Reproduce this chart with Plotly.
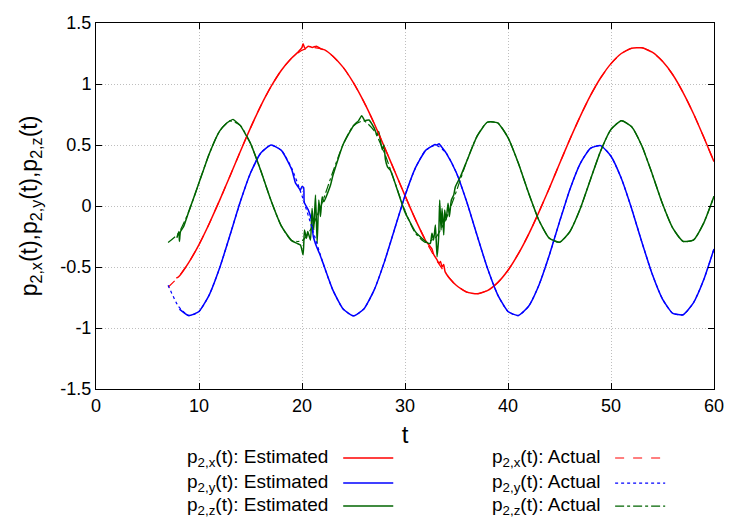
import plotly.graph_objects as go

# ── Colours ──────────────────────────────────────────────────
COLORS = {
    "x": "#ff0000",
    "y": "#0000ff",
    "z": "#006400",
    "grid": "#bebebe",
    "axis": "#000000",
}
FONT = "Liberation Sans, Arial, sans-serif"

# ── Axis ticks ───────────────────────────────────────────────
x_ticks = [0, 10, 20, 30, 40, 50, 60]
y_ticks = [-1.5, -1, -0.5, 0, 0.5, 1, 1.5]
y_tick_labels = ["-1.5", "-1", "-0.5", "0", "0.5", "1", "1.5"]

# ── Actual trajectories (t = 7 .. 60) ───────────────────────
t_actual = list(range(7, 61))
x_actual = [-0.666, -0.582, -0.464, -0.316, -0.143, 0.046, 0.244, 0.445, 0.640, 0.821,
            0.980, 1.113, 1.213, 1.276, 1.300, 1.284, 1.228, 1.136, 1.009, 0.855,
            0.678, 0.484, 0.285, 0.085, -0.108, -0.283, -0.436, -0.561, -0.652, -0.706,
            -0.720, -0.693, -0.628, -0.527, -0.392, -0.232, -0.050, 0.144, 0.346, 0.545,
            0.733, 0.905, 1.051, 1.167, 1.250, 1.293, 1.297, 1.261, 1.186, 1.076,
            0.930, 0.758, 0.565, 0.364]
y_actual = [-0.649, -0.822, -0.898, -0.865, -0.728, -0.509, -0.242, 0.032, 0.270, 0.434,
            0.499, 0.456, 0.310, 0.084, -0.186, -0.458, -0.690, -0.845, -0.900, -0.845,
            -0.690, -0.458, -0.186, 0.084, 0.310, 0.456, 0.499, 0.434, 0.270, 0.032,
            -0.242, -0.509, -0.728, -0.865, -0.898, -0.822, -0.649, -0.406, -0.130, 0.134,
            0.346, 0.473, 0.495, 0.408, 0.227, -0.021, -0.297, -0.558, -0.763, -0.880,
            -0.891, -0.794, -0.605, -0.352]
z_actual = [-0.299, -0.225, -0.048, 0.190, 0.429, 0.614, 0.698, 0.661, 0.513, 0.289,
            0.043, -0.165, -0.284, -0.286, -0.170, 0.036, 0.281, 0.506, 0.658, 0.698,
            0.618, 0.436, 0.197, -0.041, -0.221, -0.299, -0.256, -0.102, 0.124, 0.369,
            0.573, 0.687, 0.682, 0.561, 0.352, 0.106, -0.117, -0.263, -0.297, -0.211,
            -0.025, 0.216, 0.452, 0.628, 0.699, 0.650, 0.492, 0.263, 0.018, -0.182,
            -0.290, -0.279, -0.140, 0.080]

# ── Estimated trajectories (noisy where the estimator re-converges) ──
t_est_x = [7.8, 8, 9, 10, 11, 12, 13, 14, 15, 16, 17, 18, 19, 19.6, 20.0, 20.1, 20.3,
           20.6, 21.0, 21.4, 21.8, 22.2, 23, 24, 25, 26, 27, 28, 29, 30, 31, 32, 32.6,
           32.8, 33.1, 33.3, 33.45, 33.6, 33.75, 33.9, 34.3, 35, 36, 37, 38, 39, 40, 41,
           42, 43, 44, 45, 46, 47, 48, 49, 50, 51, 52, 53, 54, 55, 56, 57, 58, 59, 60]
x_est = [-0.59, -0.582, -0.464, -0.316, -0.143, 0.046, 0.244, 0.445, 0.640, 0.821,
         0.980, 1.113, 1.213, 1.26, 1.30, 1.33, 1.29, 1.31, 1.30, 1.31, 1.29, 1.28,
         1.228, 1.136, 1.009, 0.855, 0.678, 0.484, 0.285, 0.085, -0.108, -0.283, -0.35,
         -0.40, -0.44, -0.47, -0.455, -0.50, -0.48, -0.54, -0.59, -0.652, -0.706, -0.720,
         -0.693, -0.628, -0.527, -0.392, -0.232, -0.050, 0.144, 0.346, 0.545, 0.733,
         0.905, 1.051, 1.167, 1.250, 1.293, 1.297, 1.261, 1.186, 1.076, 0.930, 0.758,
         0.565, 0.364]

t_est_y = [8.1, 9, 10, 11, 12, 13, 14, 15, 16, 17, 18, 19, 19.36, 19.6, 19.84, 20.0,
           20.16, 20.22, 20.6, 20.9, 21.1, 21.4, 21.7, 22, 23, 24, 25, 26, 27, 28, 29,
           30, 31, 32, 32.6, 32.9, 33.1, 33.3, 33.5, 34, 35, 36, 37, 38, 39, 40, 41, 42,
           43, 44, 45, 46, 47, 48, 49, 50, 51, 52, 53, 54, 55, 56, 57, 58, 59, 60]
y_est = [-0.845, -0.898, -0.865, -0.728, -0.509, -0.242, 0.032, 0.270, 0.434, 0.499,
         0.456, 0.30, 0.19, 0.16, 0.13, 0.16, 0.15, 0.03, -0.03, -0.11, -0.25, -0.33,
         -0.39, -0.458, -0.690, -0.845, -0.900, -0.845, -0.690, -0.458, -0.186, 0.084,
         0.310, 0.456, 0.49, 0.505, 0.50, 0.51, 0.49, 0.434, 0.270, 0.032, -0.242,
         -0.509, -0.728, -0.865, -0.898, -0.822, -0.649, -0.406, -0.130, 0.134, 0.346,
         0.473, 0.495, 0.408, 0.227, -0.021, -0.297, -0.558, -0.763, -0.880, -0.891,
         -0.794, -0.605, -0.352]

t_est_z = [7.85, 8.05, 8.1, 8.2, 8.5, 9, 10, 11, 12, 12.7, 13, 13.3, 13.6, 14, 15, 16,
           17, 18, 19, 19.52, 19.85, 20.11, 20.24, 20.43, 20.56, 20.82, 20.98, 21.14,
           21.31, 21.47, 21.63, 21.79, 21.96, 22.12, 22.77, 23, 24, 25, 25.5, 25.8, 26.1,
           26.5, 27, 27.3, 27.45, 27.6, 27.8, 27.95, 28.1, 28.3, 28.6, 29, 30, 31, 31.33,
           32.14, 32.46, 32.62, 32.78, 32.95, 33.11, 33.27, 33.37, 33.5, 33.6, 33.76,
           33.85, 33.99, 34.18, 34.31, 34.5, 34.73, 34.89, 35.38, 36, 37, 38, 39, 40, 41,
           42, 43, 44, 45, 46, 47, 48, 49, 50, 51, 52, 53, 54, 55, 56, 57, 58, 59, 60]
z_est = [-0.26, -0.21, -0.29, -0.21, -0.17, -0.048, 0.190, 0.429, 0.614, 0.68, 0.698,
         0.71, 0.69, 0.661, 0.513, 0.289, 0.043, -0.165, -0.284, -0.306, -0.32, -0.40,
         -0.197, -0.265, -0.21, -0.279, -0.019, -0.197, 0.09, -0.306, 0.049, -0.087,
         0.076, 0.035, 0.172, 0.25, 0.506, 0.658, 0.70, 0.74, 0.70, 0.705, 0.64, 0.58,
         0.61, 0.54, 0.46, 0.50, 0.38, 0.32, 0.29, 0.197, -0.05, -0.21, -0.24, -0.30,
         -0.306, -0.224, -0.279, -0.156, -0.415, -0.251, 0.049, -0.197, -0.019, -0.238,
         -0.033, -0.115, 0.022, -0.087, 0.049, 0.09, 0.158, 0.24, 0.369, 0.573, 0.687,
         0.682, 0.561, 0.352, 0.106, -0.117, -0.263, -0.297, -0.211, -0.025, 0.216,
         0.452, 0.628, 0.699, 0.650, 0.492, 0.263, 0.018, -0.182, -0.290, -0.279,
         -0.140, 0.080]

SUB = {"x": "2,x", "y": "2,y", "z": "2,z"}
DASH = {"x": "dash", "y": "dot", "z": "dashdot"}

fig = go.Figure()

estimated = {"x": (t_est_x, x_est), "y": (t_est_y, y_est), "z": (t_est_z, z_est)}
actual = {"x": x_actual, "y": y_actual, "z": z_actual}

for comp, (tt, vv) in estimated.items():
    fig.add_trace(go.Scatter(
        x=tt, y=vv, mode="lines", showlegend=False,
        line=dict(color=COLORS[comp], width=1.5, shape="spline", smoothing=0.5),
    ))

for comp, vv in actual.items():
    fig.add_trace(go.Scatter(
        x=t_actual, y=vv, mode="lines", showlegend=False,
        line=dict(color=COLORS[comp], width=1.2, dash=DASH[comp],
                  shape="spline", smoothing=0.6),
    ))

# ── Hand-built legend (gnuplot style: text left, sample right) ──
rows = [-0.1885, -0.257, -0.320]
for i, comp in enumerate(["x", "y", "z"]):
    fig.add_annotation(
        xref="paper", yref="paper", x=0.379, y=rows[i],
        xanchor="right", yanchor="middle", showarrow=False,
        text=f"p<sub>{SUB[comp]}</sub>(t): Estimated",
        font=dict(size=19, color="black", family=FONT),
    )
    fig.add_shape(type="line", xref="paper", yref="paper",
                  x0=0.400, x1=0.481, y0=rows[i], y1=rows[i],
                  line=dict(color=COLORS[comp], width=1.5))
    fig.add_annotation(
        xref="paper", yref="paper", x=0.820, y=rows[i],
        xanchor="right", yanchor="middle", showarrow=False,
        text=f"p<sub>{SUB[comp]}</sub>(t): Actual",
        font=dict(size=19, color="black", family=FONT),
    )
    fig.add_shape(type="line", xref="paper", yref="paper",
                  x0=0.840, x1=0.921, y0=rows[i], y1=rows[i],
                  line=dict(color=COLORS[comp], width=1.2, dash=DASH[comp]))

axis_common = dict(
    showline=True, linecolor=COLORS["axis"], linewidth=1, mirror="ticks",
    ticks="inside", ticklen=6, tickcolor=COLORS["axis"],
    showgrid=True, gridcolor=COLORS["grid"], griddash="1px,2px", gridwidth=1,
    zeroline=False, automargin=False,
    tickfont=dict(size=18, color="black", family=FONT),
)

# page body adds an 8px offset, so the figure is a bit smaller than the window
fig.update_layout(
    width=742, height=517,
    paper_bgcolor="white", plot_bgcolor="white",
    font=dict(family=FONT, color="black"),
    margin=dict(l=88, r=36, t=15, b=136),
    showlegend=False,
    xaxis=dict(**axis_common, range=[0, 60], tickvals=x_ticks,
               title=dict(text="t", font=dict(size=24), standoff=11)),
    yaxis=dict(**axis_common, range=[-1.5, 1.5], tickvals=y_ticks,
               ticktext=y_tick_labels,
               title=dict(text="p<sub>2,x</sub>(t),p<sub>2,y</sub>(t),p<sub>2,z</sub>(t)",
                          font=dict(size=23), standoff=16)),
)

fig.write_html("out.html")
